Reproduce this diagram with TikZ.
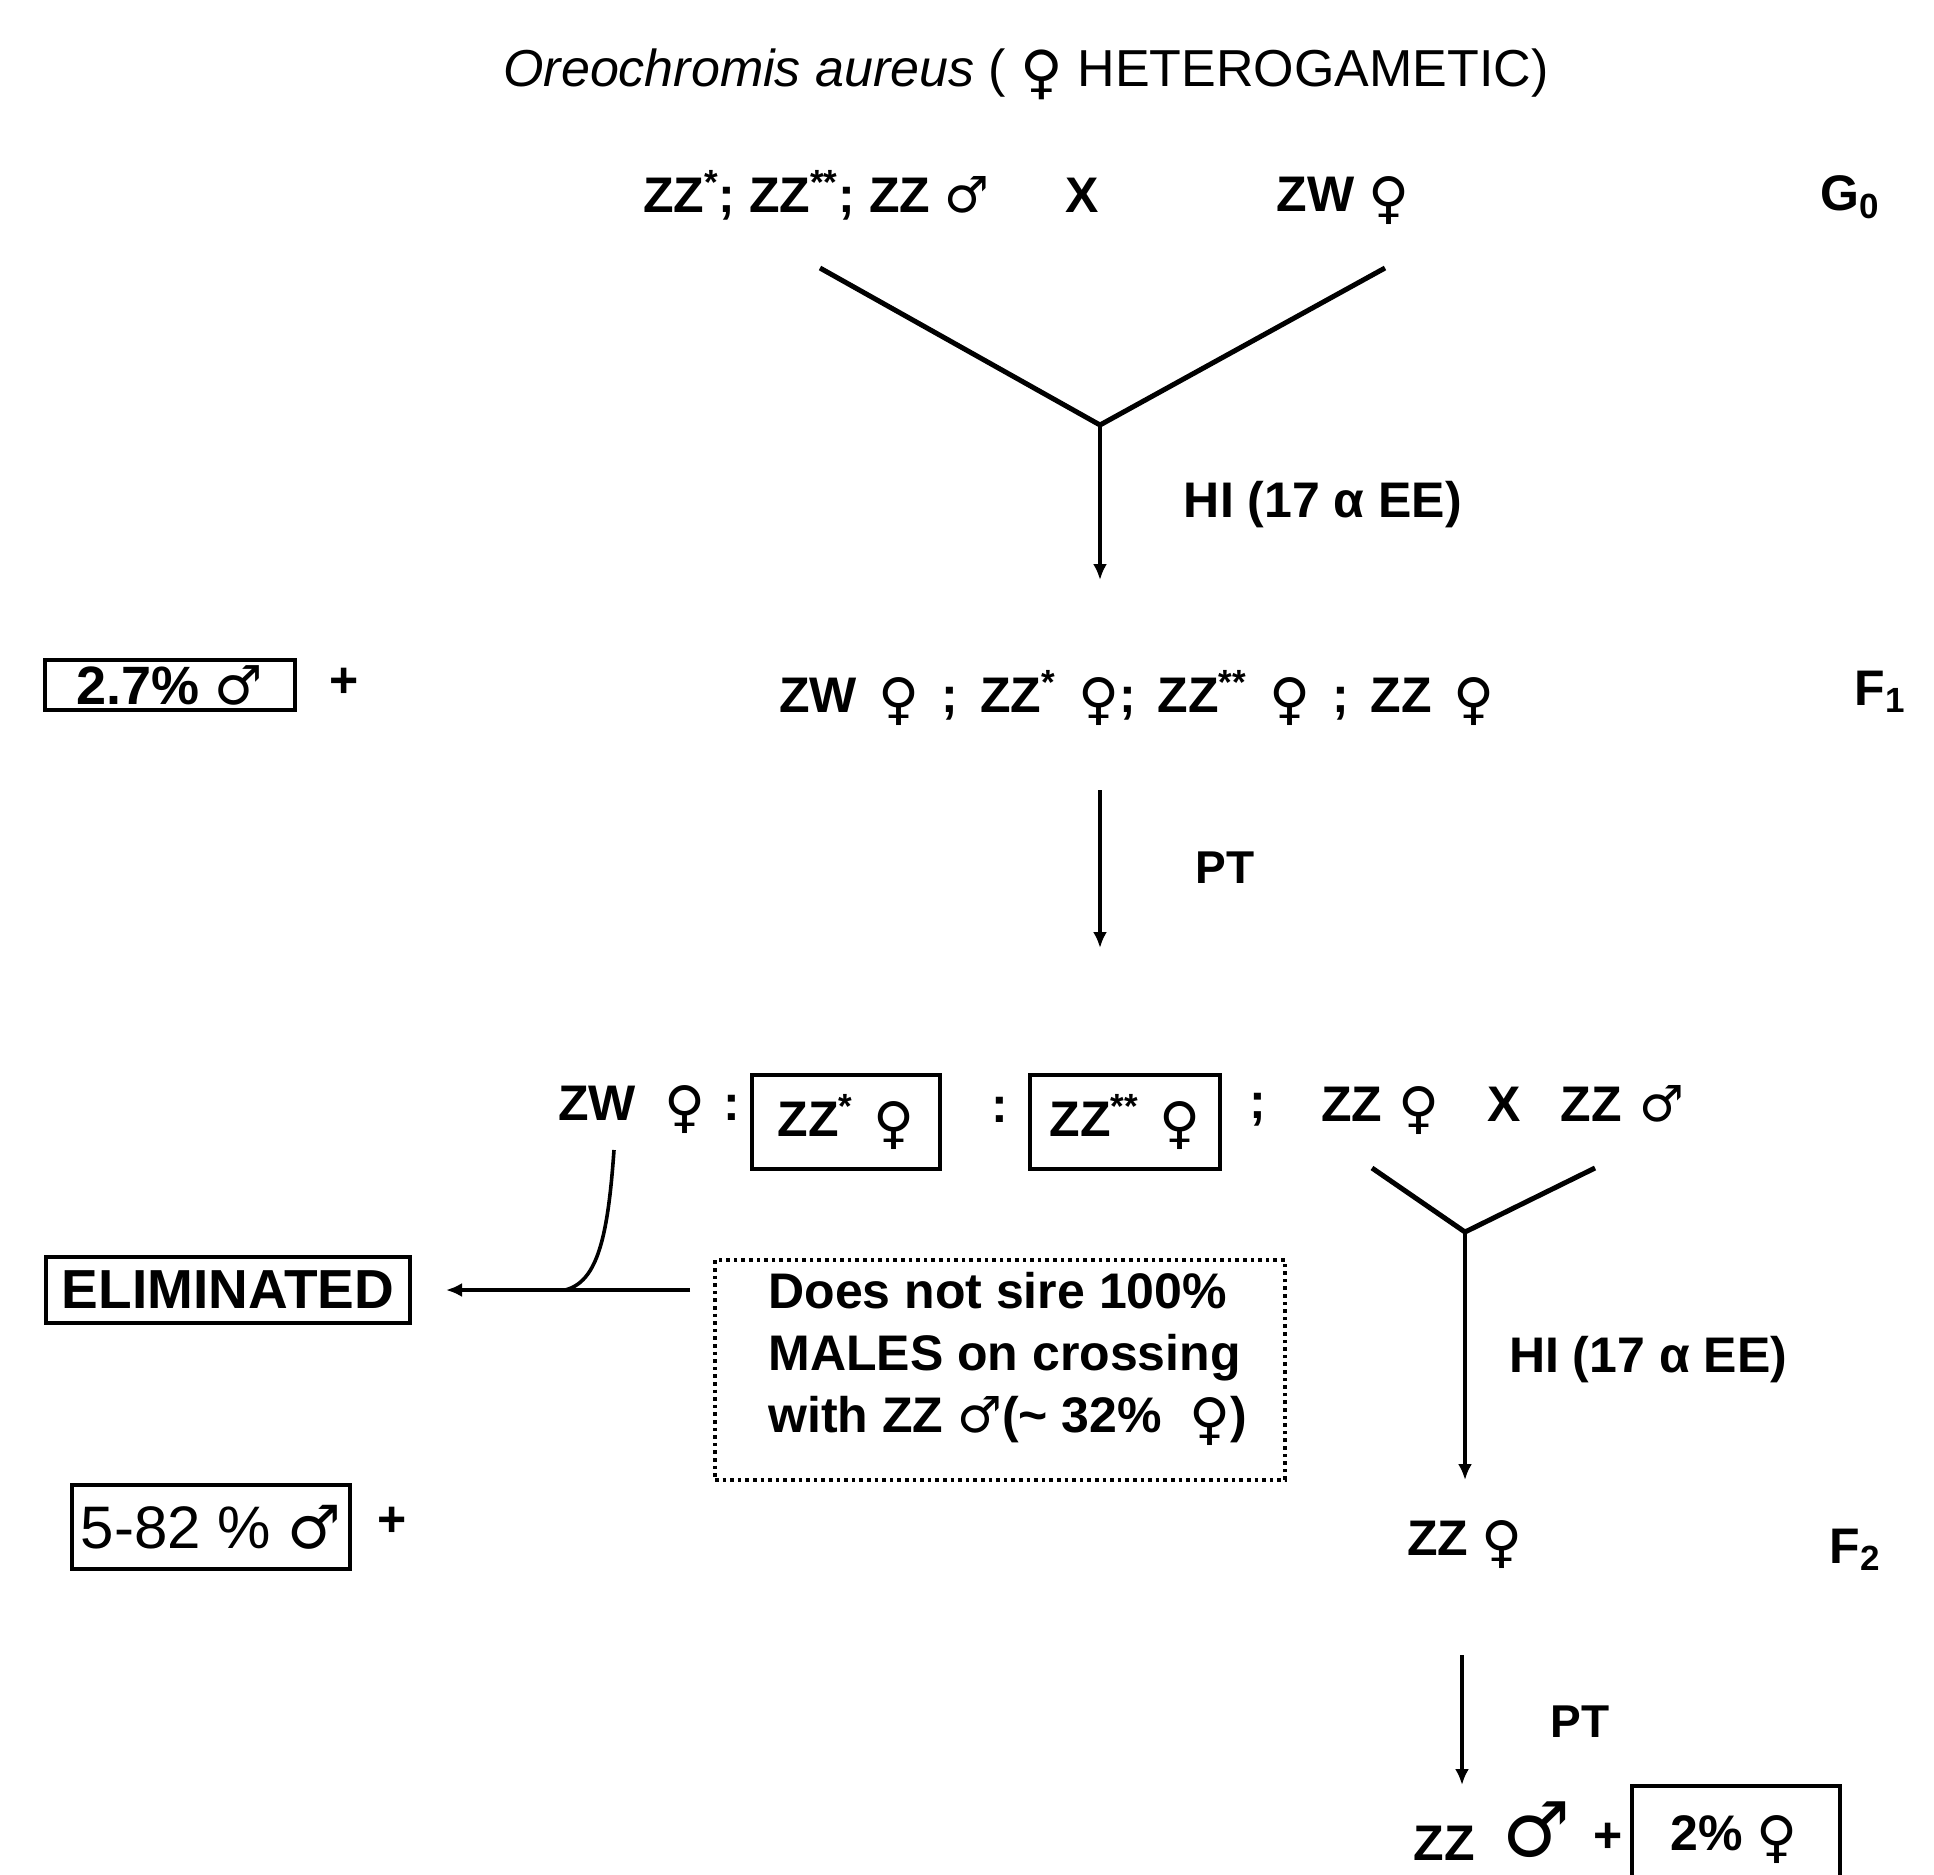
\documentclass[tikz,border=0pt]{standalone}
\usepackage{fontspec}
\usepackage{graphicx}
\setmainfont{Liberation Sans}
\newfontfamily\symf{DejaVu Sans}
\usetikzlibrary{arrows.meta}
\newcommand{\fem}{\raisebox{-0.12em}{\scalebox{1.12}{\symf\mdseries ♀}}}
\newcommand{\mal}{{\symf\mdseries ♂}}
\newcommand{\sst}{\textsuperscript{*}}
\newcommand{\dst}{\textsuperscript{**}}
\newcommand{\gp}{\hspace{11pt}}
\begin{document}
\begin{tikzpicture}[x=0.5pt,y=-0.5pt,
  font=\fontsize{25}{30}\selectfont\bfseries,
  every node/.style={inner sep=0pt},
  bx/.style={draw, line width=2pt},
  ln/.style={line width=2.5pt},
  arr/.style={line width=1.8pt, -{Latex[length=8pt,width=7pt]}},
  pl/.style={line width=1.8pt}]
\useasboundingbox (0,0) rectangle (1934,1875);
% title
\node (title) at (1026,74) {\mdseries\fontsize{26}{30}\selectfont\textit{Oreochromis aureus} ( \fem\ HETEROGAMETIC)};
% G0 row
\node (g0a) at (816,195) {ZZ\sst; ZZ\dst; ZZ \mal};
\node (g0x) at (1082,195) {X};
\node (g0b) at (1343,201) {ZW \fem};
\node (g0) at (1850,197) {G\textsubscript{0}};
\coordinate (a1) at (820,268);
\coordinate (a2) at (1385,268);
\coordinate (j1) at (1100,425);
\coordinate (e1) at (1100,580);
\draw[ln] (a1) -- (j1) -- (a2);
\draw[arr] (j1) -- (e1);
\node (hi1) at (1323,505) {HI (17 α EE)};
% F1 row
\node[bx, minimum width=125pt, minimum height=25pt, font=\fontsize{27}{30}\selectfont\bfseries] (b27) at (170,685) {2.7\% \mal};
\node (p1) at (344,683) {+};
\node (f1row) at (1137,698) {ZW\gp\fem\gp;\gp ZZ\sst\gp\fem;\gp ZZ\dst\gp\fem\gp;\gp ZZ\gp\fem};
\node (f1) at (1880,692) {F\textsubscript{1}};
\coordinate (s2) at (1100,790);
\coordinate (e2) at (1100,948);
\draw[arr] (s2) -- (e2);
\node[font=\fontsize{23}{27}\selectfont\bfseries] (pt1) at (1225,868) {PT};
% F1 offspring row
\node (zw2) at (649,1110) {ZW\hspace{14pt}\fem\hspace{9pt}:};
\node[bx, minimum width=94pt, minimum height=47pt] (bA) at (846,1122) {ZZ\sst\hspace{10pt}\fem};
\node (c1) at (1000,1110) {:};
\node[bx, minimum width=95pt, minimum height=47pt] (bB) at (1125,1122) {ZZ\dst\hspace{10pt}\fem};
\node (c2) at (1258,1110) {;};
\node (rt) at (1503,1110) {ZZ\hspace{8pt}\fem\hspace{24pt}X\hspace{20pt}ZZ\hspace{9pt}\mal};
\coordinate (b1) at (1372,1168);
\coordinate (b2) at (1595,1168);
\coordinate (j2) at (1465,1232);
\coordinate (e3) at (1465,1480);
\draw[ln] (b1) -- (j2) -- (b2);
\draw[arr] (j2) -- (e3);
\node (hi2) at (1648,1360) {HI (17 α EE)};
% eliminated branch
\node[bx, minimum width=182pt, minimum height=33pt, font=\fontsize{27.5}{30}\selectfont\bfseries] (elim) at (228,1290) {ELIMINATED};
\node[draw, dotted, line width=1.8pt, minimum width=285pt, minimum height=110pt] (dbox) at (1000,1370) {};
\node[anchor=north west, align=left, font=\fontsize{25}{31}\selectfont\bfseries] (dtxt) at (768,1272) {Does not sire 100\%\\MALES on crossing\\with ZZ \mal(\textasciitilde\ 32\% \ \fem)};
\coordinate (ls) at (690,1290);
\coordinate (jn) at (565,1290);
\coordinate (zwb) at (614,1150);
\draw[pl] (zwb) .. controls (608,1235) and (598,1282) .. (jn);
\draw[arr, shorten >=17pt] (ls) -- (elim);
% 5-82 box
\node[bx, minimum width=139pt, minimum height=42pt, font=\fontsize{30}{34}\selectfont\mdseries] (b582) at (211,1527) {5-82 \% \mal};
\node (p2) at (392,1522) {+};
% F2
\node (f2row) at (1465,1545) {ZZ \fem};
\node (f2) at (1855,1550) {F\textsubscript{2}};
\coordinate (s4) at (1462,1655);
\coordinate (e4) at (1462,1785);
\draw[arr] (s4) -- (e4);
\node[font=\fontsize{23}{27}\selectfont\bfseries] (pt2) at (1580,1722) {PT};
\node (lzz) at (1444,1843) {ZZ};
\node (lma) at (1537,1830) {{\fontsize{38}{40}\selectfont\mal}};
\node (p3) at (1608,1838) {+};
\node[bx, minimum width=104pt, minimum height=62pt] (b2p) at (1736,1848) {};
\node (b2t) at (1734,1840) {2\% \fem};
\end{tikzpicture}
\end{document}
